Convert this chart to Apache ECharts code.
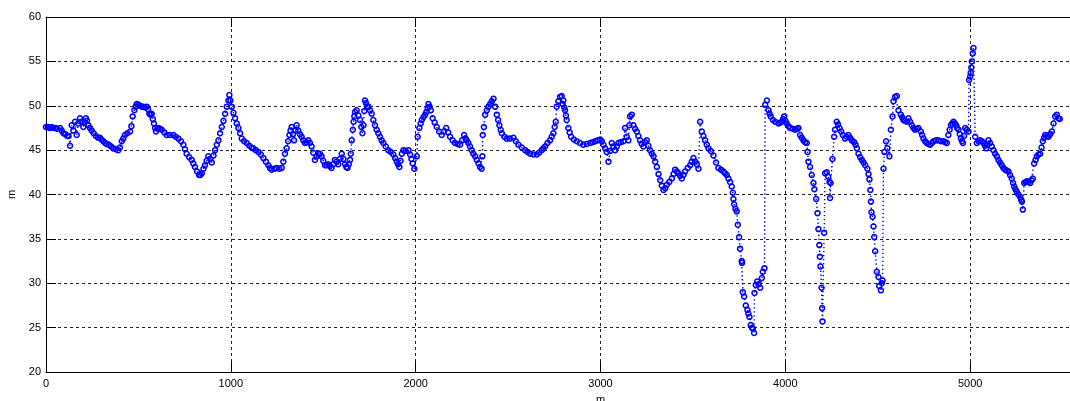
<!DOCTYPE html>
<html>
<head>
<meta charset="utf-8">
<script src="https://cdn.jsdelivr.net/npm/echarts@6/dist/echarts.min.js"></script>
<style>
  html, body { margin: 0; padding: 0; background: #fff; }
  #chart { width: 1070px; height: 401px; }
</style>
</head>
<body>
<div id="chart"></div>
<script>
// Distance along the profile (m)
const distance = [
  0, 10, 20, 30, 40, 50, 60, 76, 85, 94, 105, 115, 122, 130, 139, 148, 157, 166, 175, 184,
  193, 202, 209, 216, 222, 229, 238, 247, 258, 270, 282, 292, 300, 310, 320, 328, 340, 352, 364, 377,
  391, 400, 410, 418, 427, 440, 455, 462, 469, 478, 485, 491, 500, 509, 518, 527, 536, 545, 552, 559,
  566, 572, 578, 584, 590, 595, 602, 608, 617, 626, 640, 653, 670, 689, 702, 716, 730, 743, 752, 761,
  775, 788, 797, 806, 817, 828, 835, 843, 852, 860, 869, 878, 888, 897, 906, 915, 924, 933, 942, 951,
  960, 969, 978, 987, 992, 998, 1005, 1014, 1023, 1032, 1041, 1050, 1059, 1072, 1086, 1100, 1111, 1122, 1135, 1149,
  1162, 1176, 1190, 1203, 1212, 1221, 1235, 1248, 1262, 1275, 1284, 1293, 1302, 1310, 1317, 1323, 1329, 1336, 1342, 1349,
  1356, 1365, 1374, 1383, 1392, 1401, 1410, 1419, 1428, 1437, 1446, 1455, 1464, 1473, 1482, 1491, 1500, 1509, 1518, 1527,
  1536, 1545, 1554, 1563, 1572, 1581, 1590, 1600, 1609, 1618, 1625, 1631, 1638, 1645, 1649, 1654, 1660, 1664, 1668, 1672,
  1681, 1690, 1699, 1706, 1712, 1718, 1722, 1726, 1731, 1737, 1744, 1753, 1762, 1771, 1780, 1789, 1798, 1807, 1816, 1825,
  1838, 1852, 1865, 1879, 1889, 1898, 1905, 1912, 1918, 1925, 1934, 1945, 1961, 1970, 1977, 1984, 1993, 2006, 2011, 2020,
  2027, 2033, 2042, 2051, 2058, 2065, 2069, 2075, 2082, 2092, 2103, 2114, 2127, 2141, 2153, 2165, 2176, 2186, 2200, 2213,
  2227, 2240, 2251, 2262, 2270, 2276, 2285, 2294, 2303, 2312, 2322, 2331, 2340, 2348, 2357, 2361, 2363, 2369, 2376, 2385,
  2394, 2403, 2412, 2421, 2430, 2439, 2446, 2453, 2460, 2466, 2480, 2493, 2510, 2529, 2542, 2556, 2574, 2592, 2605, 2619,
  2637, 2655, 2668, 2682, 2691, 2700, 2713, 2727, 2736, 2745, 2752, 2758, 2763, 2772, 2781, 2790, 2795, 2799, 2804, 2808,
  2813, 2817, 2826, 2833, 2841, 2856, 2871, 2889, 2907, 2925, 2944, 2958, 2971, 2985, 2998, 3007, 3016, 3025, 3034, 3043,
  3052, 3061, 3070, 3079, 3088, 3097, 3110, 3124, 3133, 3142, 3151, 3156, 3160, 3169, 3178, 3187, 3196, 3205, 3214, 3223,
  3232, 3241, 3250, 3259, 3268, 3278, 3287, 3296, 3305, 3314, 3323, 3332, 3341, 3350, 3359, 3372, 3386, 3395, 3404, 3413,
  3422, 3431, 3440, 3449, 3458, 3472, 3485, 3494, 3503, 3512, 3521, 3530, 3539, 3548, 3557, 3566, 3575, 3584, 3597, 3611,
  3625, 3638, 3652, 3665, 3674, 3683, 3692, 3701, 3710, 3716, 3719, 3723, 3730, 3737, 3743, 3750, 3755, 3764, 3766, 3770,
  3777, 3786, 3795, 3800, 3806, 3813, 3820, 3824, 3831, 3833, 3840, 3848, 3855, 3864, 3873, 3878, 3887, 3891, 3900, 3909,
  3915, 3921, 3933, 3945, 3963, 3972, 3981, 3988, 3994, 4000, 4008, 4017, 4026, 4040, 4053, 4062, 4071, 4080, 4089, 4098,
  4107, 4116, 4120, 4125, 4134, 4143, 4152, 4157, 4167, 4174, 4179, 4184, 4187, 4190, 4196, 4199, 4201, 4210, 4215, 4224,
  4232, 4239, 4242, 4245, 4255, 4264, 4269, 4278, 4285, 4293, 4302, 4311, 4323, 4332, 4341, 4350, 4360, 4372, 4380, 4387,
  4396, 4405, 4414, 4423, 4432, 4444, 4450, 4455, 4460, 4463, 4466, 4472, 4477, 4481, 4486, 4495, 4504, 4508, 4517, 4522,
  4526, 4531, 4536, 4545, 4552, 4563, 4571, 4580, 4585, 4594, 4603, 4612, 4625, 4632, 4639, 4648, 4657, 4666, 4675, 4684,
  4693, 4702, 4711, 4720, 4733, 4740, 4747, 4756, 4765, 4775, 4784, 4793, 4802, 4815, 4829, 4842, 4856, 4865, 4874, 4882,
  4889, 4896, 4903, 4910, 4917, 4924, 4930, 4937, 4944, 4950, 4956, 4961, 4967, 4973, 4982, 4991, 4994, 5000, 5003, 5006,
  5009, 5014, 5018, 5027, 5036, 5045, 5054, 5063, 5072, 5080, 5087, 5093, 5099, 5108, 5117, 5126, 5135, 5144, 5153, 5162,
  5171, 5180, 5189, 5198, 5207, 5216, 5225, 5232, 5238, 5245, 5252, 5261, 5271, 5276, 5280, 5285, 5292, 5300, 5307, 5316,
  5325, 5332, 5339, 5346, 5354, 5361, 5370, 5379, 5386, 5393, 5400, 5406, 5415, 5424, 5433, 5442, 5451, 5460, 5469, 5478,
  5485
];

// Elevation at each distance (m)
const elevation = [
  47.6, 47.6, 47.5, 47.6, 47.5, 47.5, 47.4, 47.5, 47.2, 46.9, 46.8, 46.6, 46.6, 45.5, 47.8, 47.2, 48.2, 46.7, 48.0, 48.6,
  48.2, 47.6, 48.1, 48.6, 48.3, 47.8, 47.5, 47.2, 46.9, 46.6, 46.4, 46.4, 46.2, 46.0, 45.8, 45.7, 45.6, 45.4, 45.2, 45.1,
  45.0, 45.3, 46.0, 46.3, 46.7, 46.9, 47.1, 47.7, 48.8, 49.5, 49.9, 50.2, 50.1, 50.0, 49.9, 49.9, 49.8, 49.9, 49.6, 49.1,
  49.0, 49.1, 48.5, 48.0, 47.5, 47.1, 47.4, 47.5, 47.4, 47.3, 47.0, 46.7, 46.7, 46.7, 46.5, 46.3, 46.0, 45.6, 45.1, 44.6,
  44.2, 43.9, 43.5, 43.1, 42.6, 42.2, 42.2, 42.4, 42.9, 43.3, 43.8, 44.3, 44.0, 43.6, 44.4, 45.0, 45.6, 46.1, 46.9, 47.6,
  48.3, 49.1, 49.9, 50.6, 51.2, 50.6, 49.9, 49.2, 48.6, 48.0, 47.5, 46.9, 46.3, 46.0, 45.8, 45.5, 45.3, 45.2, 45.0, 44.8,
  44.5, 44.1, 43.7, 43.3, 43.0, 42.8, 42.9, 43.0, 42.9, 43.0, 43.7, 44.6, 45.2, 46.0, 46.7, 47.2, 47.6, 46.8, 46.1, 47.2,
  47.8, 47.2, 46.8, 46.5, 46.1, 45.8, 45.9, 46.1, 45.8, 45.4, 44.7, 43.9, 44.3, 44.6, 44.6, 44.3, 43.8, 43.3, 43.3, 43.4,
  43.2, 43.0, 43.4, 43.9, 43.7, 43.4, 44.0, 44.6, 44.0, 43.4, 43.1, 43.0, 43.4, 43.9, 44.6, 46.1, 47.3, 48.2, 48.8, 49.3,
  49.5, 48.9, 48.4, 47.6, 46.9, 47.8, 49.4, 50.6, 50.3, 49.9, 49.9, 49.5, 49.1, 48.4, 47.8, 47.3, 46.9, 46.5, 46.1, 45.8,
  45.4, 45.0, 44.8, 44.5, 44.1, 43.7, 43.4, 43.1, 43.8, 44.6, 45.0, 44.9, 45.0, 44.5, 44.0, 43.5, 42.9, 44.3, 46.5, 47.5,
  48.0, 48.4, 48.7, 49.0, 49.3, 49.7, 50.2, 49.9, 49.5, 48.6, 48.1, 47.6, 47.1, 46.7, 47.1, 47.5, 47.0, 46.5, 46.1, 45.8,
  45.7, 45.6, 46.1, 46.7, 46.3, 46.1, 45.8, 45.4, 45.0, 44.6, 44.3, 43.9, 43.5, 43.1, 42.9, 44.3, 46.7, 47.6, 49.0, 49.5,
  49.9, 50.2, 50.5, 50.8, 49.9, 49.0, 48.4, 47.8, 47.3, 46.9, 46.5, 46.3, 46.3, 46.4, 46.0, 45.6, 45.3, 45.0, 44.8, 44.6,
  44.5, 44.5, 44.7, 45.0, 45.2, 45.4, 45.8, 46.1, 46.5, 46.9, 47.6, 48.2, 49.9, 50.5, 51.0, 51.1, 50.2, 50.6, 49.8, 49.5,
  48.9, 48.4, 47.5, 47.0, 46.5, 46.2, 46.0, 45.8, 45.6, 45.7, 45.8, 45.9, 46.0, 46.1, 46.2, 46.0, 45.6, 45.2, 44.8, 43.7,
  44.9, 45.8, 45.4, 45.0, 45.4, 45.8, 45.9, 46.0, 47.5, 46.5, 46.1, 47.8, 48.8, 49.0, 47.8, 47.4, 47.1, 46.6, 46.1, 45.7,
  45.4, 45.9, 46.1, 45.5, 45.0, 44.6, 44.3, 43.7, 43.1, 42.3, 41.6, 41.0, 40.5, 40.7, 41.1, 41.4, 41.8, 42.3, 42.8, 42.6,
  42.4, 42.1, 41.8, 42.2, 42.6, 43.0, 43.3, 43.7, 44.1, 43.7, 43.4, 42.9, 48.2, 47.1, 46.6, 46.1, 45.6, 45.2, 44.9, 44.4,
  43.6, 43.0, 42.8, 42.6, 42.4, 42.2, 41.8, 41.4, 40.9, 40.2, 39.5, 38.9, 38.4, 38.1, 36.6, 35.2, 33.9, 32.5, 32.3, 29.0,
  28.5, 27.5, 27.0, 26.6, 26.2, 25.3, 25.0, 24.9, 24.4, 28.9, 29.8, 30.2, 29.9, 29.5, 30.6, 31.3, 31.7, 50.1, 50.6, 49.5,
  49.1, 48.8, 48.4, 48.2, 48.0, 48.1, 48.2, 48.5, 48.8, 48.3, 48.0, 47.7, 47.5, 47.4, 47.3, 47.4, 47.5, 46.7, 46.4, 46.1,
  45.9, 45.8, 44.8, 43.7, 43.1, 42.2, 41.3, 40.6, 39.5, 37.9, 36.1, 34.3, 33.0, 31.9, 29.5, 27.2, 25.7, 35.7, 42.4, 42.5,
  42.0, 41.4, 39.6, 41.3, 44.0, 46.5, 47.3, 48.2, 47.9, 47.5, 47.1, 46.7, 46.3, 46.5, 46.7, 46.4, 46.1, 45.9, 45.6, 45.2,
  44.6, 44.2, 43.9, 43.6, 43.3, 42.9, 42.3, 41.7, 40.5, 39.2, 38.0, 37.5, 36.4, 35.2, 33.6, 31.3, 30.7, 29.7, 29.2, 30.0,
  30.3, 42.9, 44.8, 46.0, 45.2, 44.3, 47.3, 48.8, 50.5, 51.0, 51.1, 49.5, 49.0, 48.7, 48.4, 48.3, 48.2, 48.6, 48.2, 47.8,
  47.5, 47.3, 47.4, 47.5, 47.1, 46.7, 46.3, 46.0, 45.8, 45.7, 45.6, 45.8, 46.0, 46.1, 46.1, 46.0, 46.0, 45.9, 45.8, 46.7,
  47.3, 47.8, 48.0, 48.2, 48.0, 47.8, 47.5, 47.3, 46.8, 46.3, 46.0, 45.8, 46.6, 47.5, 47.3, 47.1, 52.9, 53.3, 53.7, 54.3,
  55.0, 55.9, 56.5, 46.5, 45.8, 46.0, 46.1, 46.0, 45.8, 45.5, 45.2, 45.6, 46.1, 45.8, 45.4, 45.0, 44.6, 44.3, 43.9, 43.6,
  43.3, 43.0, 42.8, 42.7, 42.6, 42.2, 41.8, 41.3, 40.9, 40.6, 40.3, 40.0, 39.7, 39.4, 39.2, 38.3, 41.3, 41.4, 41.5, 41.4,
  41.3, 41.6, 41.8, 43.5, 43.9, 44.3, 44.5, 44.6, 45.3, 46.0, 46.4, 46.7, 46.6, 46.5, 46.8, 47.1, 48.0, 48.8, 49.0, 48.6,
  48.5
];

// Axis ticks
const xTicks = [0, 1000, 2000, 3000, 4000, 5000, 6000];
const yTicks = [20, 25, 30, 35, 40, 45, 50, 55, 60];

const profile = distance.map((d, i) => [d, elevation[i]]);

const chart = echarts.init(document.getElementById('chart'), null, { renderer: 'canvas' });

const labelFont = {
  color: '#000',
  fontFamily: '"Liberation Sans", Arial, Helvetica, sans-serif',
  fontSize: 11
};
const gridDash = { color: '#222', width: 1, type: [3, 3] };
const plain = v => String(v);

chart.setOption({
  animation: false,
  backgroundColor: '#fff',
  grid: {
    left: 46, top: 17, width: 1109, height: 355,
    containLabel: false,
    outerBoundsMode: 'none'
  },
  xAxis: [
    {
      type: 'value',
      min: xTicks[0],
      max: xTicks[xTicks.length - 1],
      interval: 1000,
      name: 'm',
      nameLocation: 'middle',
      nameGap: 22,
      nameTextStyle: labelFont,
      axisLine: { show: true, onZero: false, lineStyle: { color: '#000', width: 1 } },
      axisTick: { show: true, inside: true, length: 10, lineStyle: { color: '#000' } },
      axisLabel: Object.assign({ margin: 6, formatter: plain }, labelFont),
      splitLine: { show: true, lineStyle: gridDash }
    },
    {
      type: 'value',
      position: 'top',
      min: xTicks[0],
      max: xTicks[xTicks.length - 1],
      interval: 1000,
      axisLine: { show: true, onZero: false, lineStyle: { color: '#000', width: 1 } },
      axisTick: { show: true, inside: true, length: 10, lineStyle: { color: '#000' } },
      axisLabel: { show: false },
      splitLine: { show: false }
    }
  ],
  yAxis: {
    type: 'value',
    min: yTicks[0],
    max: yTicks[yTicks.length - 1],
    interval: 5,
    name: 'm',
    nameLocation: 'middle',
    nameGap: 26,
    nameTextStyle: labelFont,
    axisLine: { show: true, onZero: false, lineStyle: { color: '#000', width: 1 } },
    axisTick: { show: true, inside: true, length: 10, lineStyle: { color: '#000' } },
    axisLabel: Object.assign({ margin: 5, formatter: plain }, labelFont),
    splitLine: { show: true, lineStyle: gridDash }
  },
  series: [
    {
      type: 'line',
      data: profile,
      xAxisIndex: 0,
      symbol: 'circle',
      symbolSize: 5,
      showSymbol: true,
      showAllSymbol: true,
      silent: true,
      lineStyle: { color: '#0000ff', width: 1.4, type: [1.4, 2.6] },
      itemStyle: { color: 'rgba(255,255,255,0)', borderColor: '#0000ff', borderWidth: 1.5 },
      emphasis: { disabled: true }
    }
  ]
});
</script>
</body>
</html>
